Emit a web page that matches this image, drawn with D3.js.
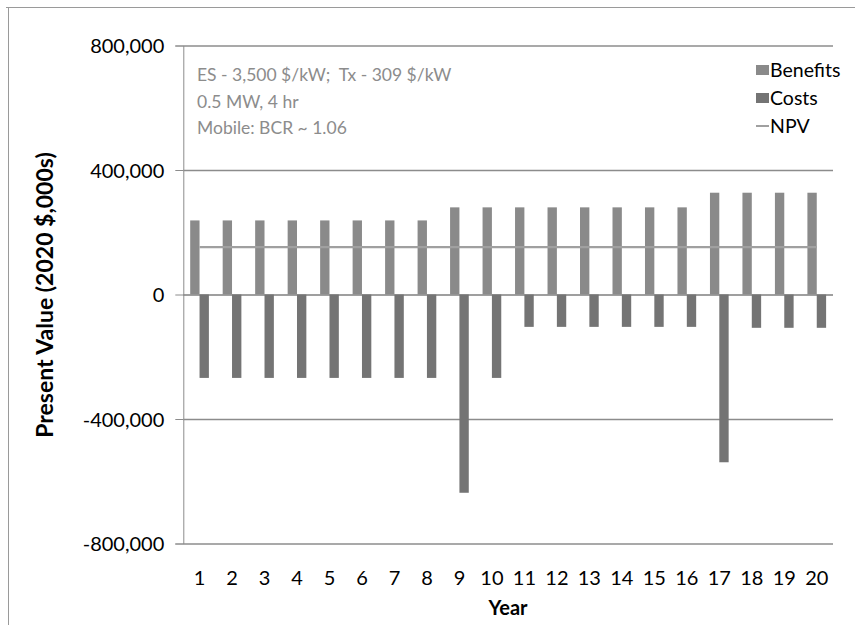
<!DOCTYPE html>
<html><head><meta charset="utf-8">
<script src="https://cdn.jsdelivr.net/npm/d3@7"></script>
<style>
body{margin:0;background:#fff;}
svg{display:block;}
text{font-family:Lato, "Open Sans", sans-serif;}
</style></head>
<body>
<svg id="chart" width="855" height="625"></svg>
<script>
const years = [1,2,3,4,5,6,7,8,9,10,11,12,13,14,15,16,17,18,19,20];
const benefits = [238000,238000,238000,238000,238000,238000,238000,238000,280000,280000,280000,280000,280000,280000,280000,280000,327000,327000,327000,327000];
const costs = [-268000,-268000,-268000,-268000,-268000,-268000,-268000,-268000,-637000,-268000,-104000,-104000,-104000,-104000,-104000,-104000,-539000,-107000,-107000,-107000];
const npv = [152000,152000,152000,152000,152000,152000,152000,152000,152000,152000,152000,152000,152000,152000,152000,152000,152000,152000,152000,152000];
const yTicks = [-800000,-400000,0,400000,800000];
const seriesNames = ["Benefits","Costs","NPV"];
const notes = ["ES - 3,500 $/kW;  Tx - 309 $/kW","0.5 MW, 4 hr","Mobile: BCR ~ 1.06"];

const svg = d3.select("#chart");
const plot = {left:183.3, right:833, top:45.5, bottom:543.5};

// chart frame
svg.append("line").attr("x1",6).attr("x2",855).attr("y1",7.5).attr("y2",7.5).attr("stroke","#9a9a9a").attr("stroke-width",1);
svg.append("line").attr("x1",8.5).attr("x2",8.5).attr("y1",7).attr("y2",625).attr("stroke","#9a9a9a").attr("stroke-width",1);

const y = d3.scaleLinear().domain([-800000,800000]).range([plot.bottom, plot.top]);
const x = d3.scaleBand().domain(years).range([plot.left, plot.right]).paddingInner(0).paddingOuter(0);
const barW = 9.35;
const fmt = d => d3.format(",")(d).replace("\u2212","-");

// gridlines + y axis
const yAxis = d3.axisLeft(y).tickValues(yTicks).tickSize(8).tickFormat(fmt);
const gy = svg.append("g").attr("transform",`translate(${plot.left},0)`).call(yAxis);
gy.select(".domain").attr("stroke","#8c8c8c");
gy.selectAll(".tick line").attr("stroke","#8c8c8c");
gy.selectAll(".tick text").attr("font-size","20px").attr("fill","#000").attr("x",-19).attr("dy","0.36em");
svg.append("g").selectAll("line").data(yTicks).join("line")
  .attr("x1",plot.left).attr("x2",plot.right)
  .attr("y1",d=>y(d)+0.5).attr("y2",d=>y(d)+0.5)
  .attr("stroke",d=>d===0?"#7f7f7f":"#8c8c8c").attr("stroke-width",1.3);

// bars
svg.append("g").selectAll("rect").data(years).join("rect")
  .attr("x",(d)=>x(d)+x.bandwidth()/2-barW)
  .attr("width",barW)
  .attr("y",(d,i)=>y(benefits[i]))
  .attr("height",(d,i)=>y(0)-y(benefits[i]))
  .attr("fill","#8a8a8a");
svg.append("g").selectAll("rect").data(years).join("rect")
  .attr("x",(d)=>x(d)+x.bandwidth()/2)
  .attr("width",barW)
  .attr("y",y(0))
  .attr("height",(d,i)=>y(costs[i])-y(0))
  .attr("fill","#747474");

// NPV line
const line = d3.line().x((d,i)=>x(years[i])+x.bandwidth()/2).y(d=>y(d));
svg.append("path").datum(npv).attr("d",line).attr("fill","none")
  .attr("stroke","#a0a0a0").attr("stroke-width",2.2);

// x tick labels
const xAxis = d3.axisBottom(x).tickSize(0).tickPadding(0);
const gx = svg.append("g").attr("transform",`translate(0,${y(-800000)})`).call(xAxis);
gx.select(".domain").remove();
gx.selectAll(".tick text").attr("font-size","20px").attr("fill","#000").attr("y",27).attr("dy","0.71em");

// axis titles
svg.append("text").attr("x",508).attr("y",615).attr("text-anchor","middle")
  .attr("font-size","20px").attr("font-weight","bold").text("Year");
svg.append("text").attr("transform","translate(53,295) rotate(-90)").attr("text-anchor","middle")
  .attr("font-size","23px").attr("font-weight","bold").text("Present Value (2020 $,000s)");

// notes
svg.append("g").selectAll("text").data(notes).join("text")
  .attr("x",197).attr("y",(d,i)=>81+i*26.5)
  .attr("font-size","17.5px").attr("fill","#8c8c8c")
  .style("white-space","pre").attr("xml:space","preserve").text(d=>d);

// legend
const lg = svg.append("g");
const ly = [70,98,126];
lg.append("rect").attr("x",756).attr("y",ly[0]-5).attr("width",13).attr("height",10).attr("fill","#8a8a8a");
lg.append("rect").attr("x",756).attr("y",ly[1]-5).attr("width",13).attr("height",10).attr("fill","#747474");
lg.append("line").attr("x1",756).attr("x2",769).attr("y1",ly[2]).attr("y2",ly[2]).attr("stroke","#a0a0a0").attr("stroke-width",2);
lg.selectAll("text").data(seriesNames).join("text")
  .attr("x",770).attr("y",(d,i)=>ly[i]).attr("dy","0.35em")
  .attr("font-size","19.5px").attr("fill","#000").text(d=>d);
</script>
</body></html>
